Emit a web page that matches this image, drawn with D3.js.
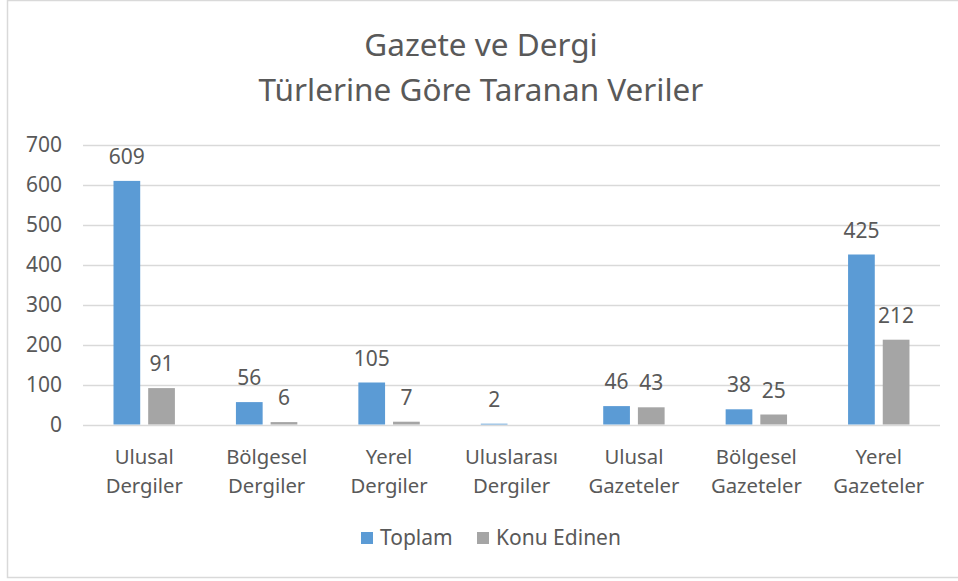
<!DOCTYPE html>
<html>
<head>
<meta charset="utf-8">
<script src="https://cdn.jsdelivr.net/npm/d3@7"></script>
<style>
  body { margin: 0; background: #fff; }
  text { font-family: "Noto Sans", "Open Sans", sans-serif; fill: #595959; }
</style>
</head>
<body>
<div id="chart"></div>
<script>
// chart data
const categories = [
    ["Ulusal", "Dergiler"],
    ["Bölgesel", "Dergiler"],
    ["Yerel", "Dergiler"],
    ["Uluslarası", "Dergiler"],
    ["Ulusal", "Gazeteler"],
    ["Bölgesel", "Gazeteler"],
    ["Yerel", "Gazeteler"]
];
const seriesNames = ["Toplam", "Konu Edinen"];
const toplam = [609, 56, 105, 2, 46, 38, 425];
const konuEdinen = [91, 6, 7, null, 43, 25, 212];
const yTicks = [0, 100, 200, 300, 400, 500, 600, 700];
const titleLines = ["Gazete ve Dergi", "Türlerine Göre Taranan Veriler"];

const colors = ["#5B9BD5", "#A5A5A5"];
const width = 958, height = 581;

const svg = d3.select("#chart")
    .append("svg")
    .attr("width", width)
    .attr("height", height);

// outer border like the Excel chart area
svg.append("rect")
    .attr("x", 7.5).attr("y", 0.5)
    .attr("width", 960).attr("height", 577)
    .attr("fill", "#fff")
    .attr("stroke", "#D9D9D9")
    .attr("stroke-width", 1.5);

// title
svg.append("g")
    .selectAll("text")
    .data(titleLines)
    .enter()
    .append("text")
    .attr("x", 481)
    .attr("y", (d, i) => 56 + i * 45)
    .attr("text-anchor", "middle")
    .attr("font-size", "31.5px")
    .text(d => d);

// scales
const x0 = d3.scaleBand()
    .domain(categories.map((d, i) => i))
    .range([83, 940])
    .padding(0);

const x1 = d3.scaleBand()
    .domain(seriesNames)
    .range([30.5, 91.9])
    .paddingInner(0.23)
    .paddingOuter(0);

const yScale = d3.scaleLinear()
    .domain([0, 700])
    .range([424.5, 144.5]);

// gridlines
svg.append("g")
    .selectAll("line")
    .data(yTicks)
    .enter()
    .append("line")
    .attr("x1", 83)
    .attr("x2", 940)
    .attr("y1", d => Math.round(yScale(d)) + 0.5)
    .attr("y2", d => Math.round(yScale(d)) + 0.5)
    .attr("stroke", "#D9D9D9")
    .attr("stroke-width", 1.3);

// y axis labels
const yAxis = d3.axisLeft(yScale).tickValues(yTicks).tickSize(0).tickPadding(0);
const yG = svg.append("g")
    .attr("transform", "translate(62, 0)")
    .call(yAxis);
yG.select(".domain").remove();
yG.selectAll("text")
    .attr("font-size", "21px")
    .style("font-family", "'Noto Sans', sans-serif")
    .attr("fill", "#595959");

// bars
const rows = categories.map((c, i) => ({
    i: i,
    values: [
        { key: seriesNames[0], value: toplam[i] },
        { key: seriesNames[1], value: konuEdinen[i] }
    ]
}));

const groups = svg.append("g")
    .selectAll("g")
    .data(rows)
    .enter()
    .append("g")
    .attr("transform", d => `translate(${x0(d.i)}, 0)`);

groups.selectAll("rect")
    .data(d => d.values.filter(v => v.value != null))
    .enter()
    .append("rect")
    .attr("x", d => x1(d.key))
    .attr("y", d => yScale(d.value))
    .attr("width", x1.bandwidth())
    .attr("height", d => yScale(0) - yScale(d.value))
    .attr("fill", d => colors[seriesNames.indexOf(d.key)]);

// data labels
groups.selectAll("text.lbl")
    .data(d => d.values.filter(v => v.value != null))
    .enter()
    .append("text")
    .attr("class", "lbl")
    .attr("x", d => x1(d.key) + x1.bandwidth() / 2)
    .attr("y", d => yScale(d.value) - 17)
    .attr("text-anchor", "middle")
    .attr("font-size", "21px")
    .text(d => d.value);

// x axis labels (two lines)
const xl = svg.append("g")
    .selectAll("text")
    .data(categories)
    .enter()
    .append("text")
    .attr("x", (d, i) => x0(i) + x0.bandwidth() / 2)
    .attr("y", 464)
    .attr("text-anchor", "middle")
    .attr("font-size", "20.3px");
xl.selectAll("tspan")
    .data(d => d)
    .enter()
    .append("tspan")
    .attr("x", function () { return d3.select(this.parentNode).attr("x"); })
    .attr("dy", (d, i) => i === 0 ? 0 : 29)
    .text(d => d);

// legend
const legendX = [361, 477];
const legend = svg.append("g")
    .selectAll("g")
    .data(seriesNames)
    .enter()
    .append("g")
    .attr("transform", (d, i) => `translate(${legendX[i]}, 532)`);
legend.append("rect")
    .attr("width", 12)
    .attr("height", 12)
    .attr("fill", (d, i) => colors[i]);
legend.append("text")
    .attr("x", 19)
    .attr("y", 12.5)
    .attr("font-size", "21px")
    .text(d => d);
</script>
</body>
</html>
